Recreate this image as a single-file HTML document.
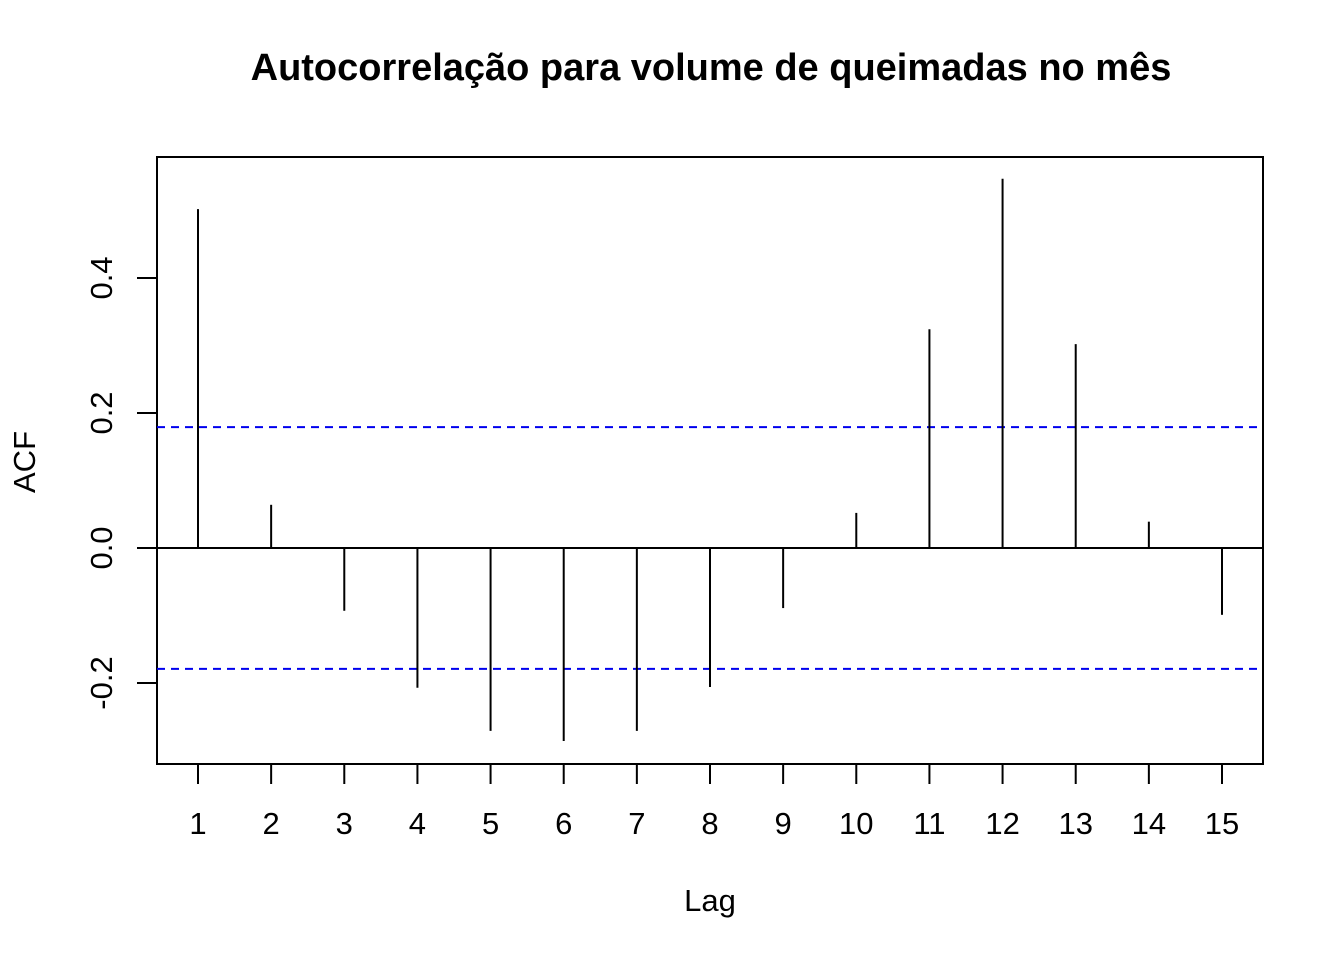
<!DOCTYPE html>
<html><head><meta charset="utf-8"><style>
body{margin:0;background:#fff}
svg{display:block;font-family:"Liberation Sans",Arial,sans-serif}
</style></head><body>
<svg id="chart" width="1344" height="960">
<text x="711" y="80" text-anchor="middle" font-weight="bold" font-size="38">Autocorrelação para volume de queimadas no mês</text>
<text x="710" y="911" text-anchor="middle" font-size="31">Lag</text>
<text transform="translate(35,462) rotate(-90)" text-anchor="middle" font-size="31">ACF</text>
<rect x="157" y="157" width="1106" height="607" fill="none" stroke="#000" stroke-width="2"/>
<g id="marks"></g>
</svg>
<script>
const lags=[1,2,3,4,5,6,7,8,9,10,11,12,13,14,15];
const acfValues=[0.502,0.064,-0.093,-0.207,-0.271,-0.286,-0.271,-0.206,-0.089,0.052,0.324,0.547,0.302,0.039,-0.099];
const yTicks=[-0.2,0,0.2,0.4];
const yTickLabels=["-0.2","0.0","0.2","0.4"];
const ciBound=[0.179];
const ns="http://www.w3.org/2000/svg";
const g=document.getElementById('marks');
function xs(l){return 198+(l-1)*(1222-198)/14;}
function ys(v){return 548-v*675;}
function mk(t,a){const e=document.createElementNS(ns,t);for(const k in a)e.setAttribute(k,a[k]);g.appendChild(e);return e;}
let z=mk('line',{x1:157,x2:1263,y1:ys(0),y2:ys(0),stroke:'#000','stroke-width':2});


ciBound.forEach(c=>{[c,-c].forEach((v,i)=>{
 const l=mk('line',{x1:157,x2:1263,y1:ys(v),y2:ys(v),stroke:'#0000ee','stroke-width':2,'stroke-dasharray':'8,6'});
 
 
});});
lags.forEach((l,i)=>{
 const b=mk('line',{x1:xs(l),x2:xs(l),y1:ys(0),y2:ys(acfValues[i]),stroke:'#000','stroke-width':2});
 
 
 const t=mk('line',{x1:xs(l),x2:xs(l),y1:764,y2:784,stroke:'#000','stroke-width':2});
 
 
 const tx=mk('text',{x:xs(l),y:834,'text-anchor':'middle','font-size':31});
 tx.textContent=l;
 
 
});
yTicks.forEach((v,i)=>{
 const t=mk('line',{x1:137,x2:157,y1:ys(v),y2:ys(v),stroke:'#000','stroke-width':2});
 
 
 const tx=mk('text',{transform:`translate(112,${ys(v)}) rotate(-90)`,'text-anchor':'middle','font-size':31});
 tx.textContent=yTickLabels[i];
 
 
});
</script>
</body></html>
